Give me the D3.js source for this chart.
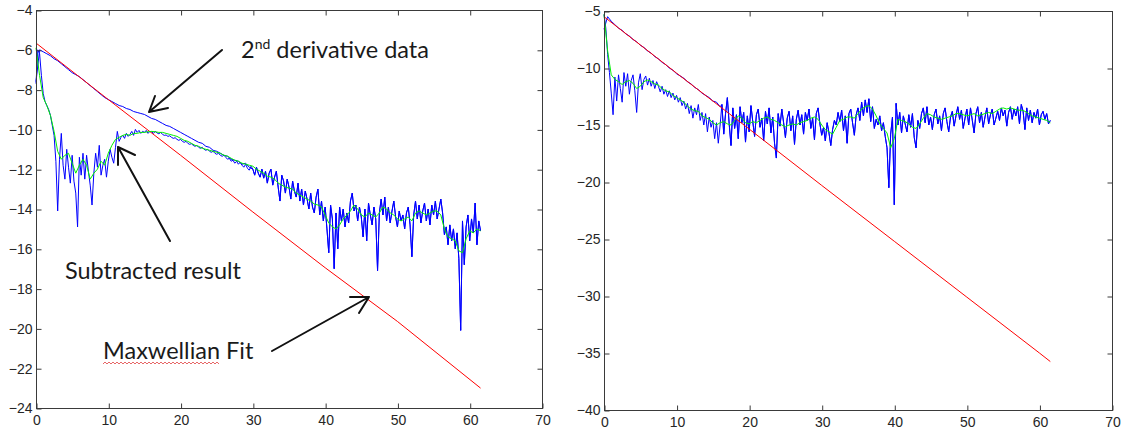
<!DOCTYPE html>
<html><head><meta charset="utf-8">
<script src="https://cdn.jsdelivr.net/npm/d3@7"></script>
<style>
html,body{margin:0;padding:0;background:#fff;}
svg{display:block;}
</style></head><body>
<svg id="chart" width="1122" height="433"></svg>
<script>
// ---------- tick labels ----------
const xTicks = [0, 10, 20, 30, 40, 50, 60, 70];
const leftYTicks = [-4, -6, -8, -10, -12, -14, -16, -18, -20, -22, -24];
const rightYTicks = [-5, -10, -15, -20, -25, -30, -35, -40];

// ---------- left panel ----------
// Maxwellian fit (straight line in log space)
const leftFitX = [0, 10, 20, 30, 40, 50, 61.5];
const leftFitY = [-5.66, -8.5, -11.3, -14.15, -16.95, -19.65, -23.0];

// 2nd derivative data, x = 0..30 step 0.5
const leftDerivHead = [-7.6, -6.0, -6.1, -6.2, -6.3, -6.45, -6.55, -6.7, -6.85, -7.0,
  -7.15, -7.25, -7.35, -7.5, -7.65, -7.8, -7.95, -8.1, -8.25, -8.4,
  -8.5, -8.6, -8.7, -8.8, -8.85, -8.95, -9.0, -9.1, -9.15, -9.2,
  -9.25, -9.35, -9.45, -9.5, -9.6, -9.7, -9.8, -9.85, -9.95, -10.05,
  -10.15, -10.25, -10.35, -10.45, -10.55, -10.65, -10.7, -10.85, -10.9, -11.05,
  -11.1, -11.2, -11.3, -11.35, -11.5, -11.55, -11.6, -11.75, -11.7, -11.9, -12.0];

// subtracted result, x = 0..30 step 0.25
const leftSubHead = [-7.7, -6.0, -6.2, -7.3, -8.2, -8.6, -8.8, -9.0, -9.3, -9.8,
  -10.3, -11.6, -14.1, -11.5, -10.2, -11.8, -12.5, -11.0, -11.9, -12.7,
  -11.3, -12.6, -13.2, -14.9, -11.4, -12.3, -11.2, -12.5, -11.3, -12.1,
  -12.8, -13.8, -12.2, -11.2, -11.9, -10.8, -12.3, -11.8, -11.5, -12.4,
  -11.6, -11.0, -11.4, -11.7, -10.9, -10.1, -10.6, -10.4, -10.3, -10.45,
  -10.2, -10.35, -10.25, -10.1, -10.3, -10.0, -10.15, -10.05, -10.2, -10.1,
  -10.15, -10.05, -10.2, -10.1, -10.12, -10.2, -10.1, -10.18, -10.22, -10.15,
  -10.25, -10.3, -10.28, -10.35, -10.32, -10.4, -10.45, -10.42, -10.5, -10.55,
  -10.5, -10.6, -10.65, -10.6, -10.7, -10.75, -10.72, -10.8, -10.85, -10.8,
  -10.9, -10.95, -10.9, -11.0, -11.05, -11.0, -11.1, -11.15, -11.1, -11.2,
  -11.25, -11.2, -11.3, -11.35, -11.3, -11.4, -11.5, -11.45, -11.6, -11.55,
  -11.7, -11.6, -11.75, -11.65, -11.8, -11.9, -11.75, -11.95, -12.05, -11.85, -12.0];

// both traces coincide above x = 30, x = 30.25..61.5 step 0.25
const leftTail = [-12.3, -11.9, -12.2, -12.4, -12.0, -12.45, -12.1, -12.7, -12.2, -12.0,
  -12.8, -12.4, -12.1, -12.9, -13.6, -12.3, -12.6, -13.2, -12.5, -12.9,
  -13.5, -12.6, -13.1, -13.4, -12.7, -13.6, -13.0, -13.8, -13.1, -13.5,
  -14.0, -13.2, -13.9, -14.2, -13.4, -13.0, -14.3, -13.6, -14.6, -13.9,
  -15.0, -16.2, -13.8, -14.5, -17.0, -14.2, -16.0, -13.9, -14.6, -14.0,
  -14.9, -14.2, -14.7, -13.6, -13.2, -14.1, -13.8, -14.6, -13.9, -14.4,
  -15.4, -14.0, -15.6, -13.7, -14.3, -14.8, -13.9, -14.5, -17.1, -14.2,
  -13.5, -14.3, -13.4, -14.6, -13.9, -14.7, -14.1, -13.6, -14.4, -14.9,
  -14.1, -14.6, -14.3, -15.0, -14.2, -13.9, -14.8, -16.4, -14.3, -13.6,
  -14.5, -13.8, -14.7, -14.1, -13.7, -14.6, -14.0, -14.8, -13.8, -14.3,
  -13.6, -14.5, -14.0, -13.5, -14.2, -15.3, -14.9, -15.8, -14.8, -15.6,
  -15.0, -16.0, -15.2, -16.5, -20.1, -14.6, -16.8, -14.9, -14.3, -15.6,
  -14.5, -15.2, -13.7, -15.8, -14.6, -15.1];

// smoothed subtracted result, x = 0..61.5 step 0.5
const leftSmooth = [-5.9, -7.3, -8.4, -8.8, -9.3, -10.1, -11.1, -11.5, -11.3, -11.2,
  -11.7, -12.2, -11.8, -11.5, -11.8, -12.5, -12.2, -12.0, -11.6, -11.8,
  -11.2, -10.8, -10.5, -10.4, -10.3, -10.25, -10.3, -10.2, -10.2, -10.15,
  -10.15, -10.12, -10.1, -10.12, -10.15, -10.15, -10.2, -10.25, -10.3, -10.35,
  -10.45, -10.55, -10.6, -10.7, -10.8, -10.85, -10.95, -11.0, -11.05, -11.1,
  -11.15, -11.2, -11.3, -11.35, -11.45, -11.55, -11.6, -11.7, -11.75, -11.8,
  -11.85, -12.0, -12.1, -12.2, -12.35, -12.4, -12.5, -12.7, -12.8, -12.9,
  -12.95, -13.0, -13.2, -13.3, -13.4, -13.5, -13.6, -13.75, -13.8, -13.9,
  -14.3, -14.7, -14.9, -15.0, -14.8, -14.5, -14.3, -14.1, -13.8, -14.0,
  -14.3, -14.4, -14.2, -14.3, -14.4, -14.2, -13.9, -14.0, -14.2, -14.3,
  -14.5, -14.6, -14.5, -14.4, -14.6, -14.2, -14.1, -14.2, -14.3, -14.2,
  -14.1, -14.1, -14.3, -15.0, -15.4, -15.5, -15.6, -16.1, -16.2, -15.5,
  -15.1, -15.2, -15.0, -15.1];

// ---------- right panel ----------
const rightFitX = [0, 10, 20, 30, 40, 50, 60, 61.5];
const rightFitY = [-5.5, -10.45, -15.35, -20.3, -25.2, -30.1, -35.0, -35.75];

// 2nd derivative data, x = 0..16 step 0.5
const rightDerivHead = [-6.6, -5.5, -5.9, -6.2, -6.5, -6.7, -7.0, -7.2, -7.5, -7.7,
  -8.0, -8.2, -8.5, -8.7, -9.0, -9.2, -9.5, -9.7, -10.0, -10.2,
  -10.5, -10.7, -10.9, -11.2, -11.4, -11.7, -11.9, -12.2, -12.4, -12.6,
  -12.9, -13.0, -13.4];

// subtracted result, x = 0..16 step 0.25
const rightSubHead = [-5.3, -6.5, -8.8, -10.4, -12.2, -14.1, -10.8, -12.9, -10.6, -11.8,
  -13.0, -10.4, -11.6, -10.5, -12.3, -11.1, -10.6, -12.0, -13.9, -11.3,
  -10.5, -11.9, -11.0, -10.7, -11.5, -10.9, -11.6, -11.1, -11.8, -11.2,
  -11.6, -12.1, -11.6, -12.3, -11.9, -12.5, -12.0, -12.6, -12.2, -12.8,
  -12.4, -13.0, -12.6, -13.3, -12.9, -13.6, -13.1, -14.0, -13.3, -14.4,
  -13.5, -14.1, -13.2, -14.6, -13.9, -15.0, -14.0, -15.6, -14.3, -15.2,
  -14.6, -16.2, -14.8, -16.6, -15.0];

// both traces coincide above x = 16, x = 16.25..61.5 step 0.25
const rightTail = [-13.2, -15.8, -14.0, -12.6, -14.9, -16.8, -13.5, -15.3, -14.1, -16.2,
  -13.4, -14.8, -13.9, -16.5, -14.2, -15.6, -13.3, -14.7, -16.0, -14.1,
  -13.6, -15.2, -14.4, -16.4, -13.8, -14.9, -13.5, -15.7, -14.3, -16.6,
  -17.9, -14.0, -15.1, -13.6, -14.8, -16.1, -14.4, -13.8, -15.5, -14.2,
  -16.7, -14.5, -13.7, -15.0, -14.1, -15.8, -13.9, -14.6, -13.6, -15.3,
  -14.4, -16.3, -14.0, -13.5, -14.9, -15.9, -15.2, -16.4, -14.8, -15.7,
  -16.8, -15.4, -14.6, -15.0, -13.9, -14.7, -13.7, -15.5, -14.2, -16.6,
  -14.0, -13.6, -14.8, -15.9, -14.1, -13.5, -14.6, -13.0, -14.2, -12.8,
  -13.9, -12.7, -14.7, -13.4, -15.3, -14.5, -15.0, -14.2, -15.5, -14.8,
  -16.0, -17.0, -20.5, -15.8, -14.3, -22.0, -13.1, -15.0, -13.9, -15.7,
  -14.2, -14.9, -15.6, -14.1, -15.2, -14.0, -16.1, -17.0, -14.6, -15.3,
  -14.0, -13.5, -14.8, -13.4, -15.0, -14.3, -15.4, -14.1, -13.6, -14.9,
  -14.2, -15.5, -14.0, -13.5, -14.7, -15.6, -14.3, -13.8, -15.1, -14.2,
  -13.4, -14.5, -13.7, -15.3, -14.4, -13.6, -15.0, -13.5, -14.6, -15.7,
  -14.0, -13.4, -14.8, -13.9, -15.2, -14.3, -13.5, -14.9, -14.1, -13.6,
  -15.0, -14.4, -13.8, -14.6, -13.5, -14.2, -13.7, -15.1, -13.9, -13.4,
  -14.5, -13.6, -14.2, -13.4, -14.9, -13.2, -13.8, -15.4, -13.5, -14.6,
  -13.7, -14.8, -13.9, -14.4, -13.6, -15.0, -14.1, -13.8, -14.5, -14.0,
  -14.9, -14.6];

// smoothed subtracted result, x = 0..61.5 step 0.5
const rightSmooth = [-5.3, -8.5, -10.6, -11.0, -11.2, -11.45, -11.2, -11.1, -11.35, -11.8,
  -11.6, -11.2, -11.05, -11.2, -11.4, -11.5, -11.8, -12.0, -12.1, -12.4,
  -12.6, -12.8, -13.0, -13.35, -13.6, -13.75, -13.8, -14.2, -14.35, -14.5,
  -14.8, -15.0, -14.8, -14.7, -14.9, -15.0, -14.6, -14.2, -14.4, -14.8,
  -14.9, -14.7, -14.8, -14.6, -14.4, -14.3, -14.5, -14.6, -14.8, -15.0,
  -15.15, -15.0, -14.9, -15.0, -14.8, -14.7, -14.6, -14.4, -14.3, -14.5,
  -15.0, -15.4, -15.6, -15.8, -15.2, -14.6, -14.5, -14.3, -14.3, -14.4,
  -14.0, -13.6, -13.4, -13.3, -13.6, -14.2, -14.9, -15.3, -15.7, -17.0,
  -16.2, -14.5, -14.6, -14.7, -14.9, -15.2, -15.3, -14.9, -14.4, -14.0,
  -14.1, -14.3, -14.4, -14.5, -14.4, -14.3, -14.2, -14.0, -14.0, -14.1,
  -14.2, -14.1, -14.0, -14.2, -14.1, -14.0, -13.9, -14.0, -13.8, -13.6,
  -13.5, -13.6, -13.5, -13.6, -13.7, -13.7, -13.8, -14.0, -14.2, -14.3,
  -14.4, -14.5, -14.6, -14.8];

// ---------- helpers ----------
const svg = d3.select('#chart');
const seq = (x0, dx, ys) => ys.map((y, i) => [x0 + i * dx, y]);
const pairs = (xs, ys) => xs.map((x, i) => [x, ys[i]]);

const COLORS = { data: '#0000ff', fit: '#ff0000', smooth: '#00f000' };
const AXIS_COLOR = '#3a3a3a';
const LABEL_COLOR = '#262626';

function panel(box, yDomain, yTicks, series) {
  const x = d3.scaleLinear().domain([0, 70]).range([box.left, box.right]);
  const y = d3.scaleLinear().domain(yDomain).range([box.top, box.bottom]);
  const g = svg.append('g');

  const line = d3.line().x(d => x(d[0])).y(d => y(d[1]));
  series.forEach(s => {
    g.append('path').datum(s.points)
      .attr('d', line).attr('fill', 'none')
      .attr('stroke', s.color).attr('stroke-width', 1)
      .attr('stroke-linejoin', 'round');
  });

  // frame
  g.append('rect')
    .attr('x', box.left + 0.5).attr('y', box.top + 0.5)
    .attr('width', box.right - box.left).attr('height', box.bottom - box.top)
    .attr('fill', 'none').attr('stroke', AXIS_COLOR).attr('stroke-width', 1);

  const styleAxis = sel => {
    sel.select('.domain').remove();
    sel.selectAll('.tick line').attr('stroke', AXIS_COLOR);
    sel.selectAll('.tick text')
      .attr('fill', LABEL_COLOR)
      .attr('font-family', '"Liberation Sans", Arial, sans-serif')
      .attr('font-size', 14);
  };

  // inward ticks on all four sides, labels on left and bottom
  g.append('g').attr('transform', `translate(0.5,${box.bottom + 0.5})`)
    .call(d3.axisBottom(x).tickValues(xTicks).tickSizeInner(-5).tickSizeOuter(0).tickPadding(7))
    .call(styleAxis);
  g.append('g').attr('transform', `translate(0.5,${box.top + 0.5})`)
    .call(d3.axisTop(x).tickValues(xTicks.slice(1, -1)).tickSizeInner(-5).tickSizeOuter(0).tickFormat(''))
    .call(styleAxis);
  g.append('g').attr('transform', `translate(${box.left + 0.5},0.5)`)
    .call(d3.axisLeft(y).tickValues(yTicks).tickSizeInner(-5).tickSizeOuter(0).tickPadding(4))
    .call(styleAxis);
  g.append('g').attr('transform', `translate(${box.right + 0.5},0.5)`)
    .call(d3.axisRight(y).tickValues(yTicks.slice(1, -1)).tickSizeInner(-5).tickSizeOuter(0).tickFormat(''))
    .call(styleAxis);
  return { x, y, g };
}

// ---------- left panel ----------
const leftDeriv = seq(0, 0.5, leftDerivHead).concat(seq(30.25, 0.25, leftTail));
const leftSub = seq(0, 0.25, leftSubHead).concat(seq(30.25, 0.25, leftTail));
panel({ left: 36, right: 542, top: 10, bottom: 408 }, [-4, -24], leftYTicks, [
  { points: leftDeriv, color: COLORS.data },
  { points: leftSub, color: COLORS.data },
  { points: pairs(leftFitX, leftFitY), color: COLORS.fit },
  { points: seq(0, 0.5, leftSmooth), color: COLORS.smooth }
]);

// ---------- right panel ----------
const rightDeriv = seq(0, 0.5, rightDerivHead).concat(seq(16.25, 0.25, rightTail));
const rightSub = seq(0, 0.25, rightSubHead).concat(seq(16.25, 0.25, rightTail));
panel({ left: 604, right: 1112, top: 11, bottom: 410 }, [-5, -40], rightYTicks, [
  { points: rightDeriv, color: COLORS.data },
  { points: rightSub, color: COLORS.data },
  { points: pairs(rightFitX, rightFitY), color: COLORS.fit },
  { points: seq(0, 0.5, rightSmooth), color: COLORS.smooth }
]);

// ---------- annotations ----------
const notes = svg.append('g')
  .attr('font-family', 'Lato, "Open Sans", sans-serif')
  .attr('fill', '#1a1a1a');

const t1 = notes.append('text').attr('x', 241).attr('y', 58).attr('font-size', 23.5);
t1.append('tspan').text('2');
t1.append('tspan').attr('dy', -9).attr('font-size', 14).text('nd');
t1.append('tspan').attr('dy', 9).text(' derivative data');

notes.append('text').attr('x', 65).attr('y', 279).attr('font-size', 23.5).text('Subtracted result');
notes.append('text').attr('x', 103).attr('y', 359).attr('font-size', 23.5).text('Maxwellian Fit');

// spell-check squiggle under "Maxwellian"
const squiggle = d3.range(103, 221, 2).map((px, i) => [px, 363 + (i % 2 ? -1 : 1)]);
notes.append('path').attr('d', d3.line()(squiggle))
  .attr('fill', 'none').attr('stroke', '#e04040').attr('stroke-width', 0.8);

// arrows: shaft from tail to tip plus two open barbs
const arrows = [
  { tail: [222, 50], tip: [149, 112], barbs: [[155, 96], [168, 108]] },
  { tail: [170, 241], tip: [118, 147], barbs: [[118, 165], [135, 155]] },
  { tail: [272, 351], tip: [369, 297], barbs: [[350, 297], [359, 313]] }
];
arrows.forEach(a => {
  const p = d3.path();
  p.moveTo(...a.tail); p.lineTo(...a.tip);
  a.barbs.forEach(b => { p.moveTo(...a.tip); p.lineTo(...b); });
  svg.append('path').attr('d', p.toString())
    .attr('fill', 'none').attr('stroke', '#111').attr('stroke-width', 2)
    .attr('stroke-linecap', 'round');
});
</script>
</body></html>
